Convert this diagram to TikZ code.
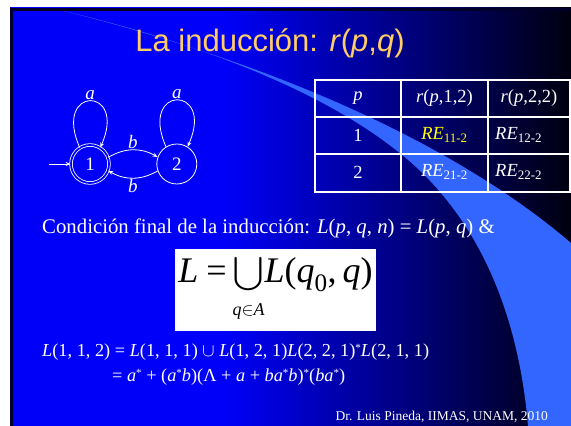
\RequirePackage{fix-cm}
\documentclass[tikz,border=0pt]{standalone}
\usepackage{amsmath}
\usepackage{fontspec}
\setmainfont{Liberation Serif}
\newfontfamily\titlefont{Liberation Sans}
\usetikzlibrary{arrows.meta,positioning}
\definecolor{slideblue}{RGB}{0,0,250}
\definecolor{slidedark}{RGB}{0,0,15}
\definecolor{slideframe}{RGB}{0,0,40}
\definecolor{swoosh}{RGB}{51,102,255}
\definecolor{titlegold}{RGB}{255,204,102}
\definecolor{reyellow}{RGB}{255,255,0}
\pgfdeclarehorizontalshading{slideshade}{100bp}{color(0bp)=(slideblue); color(25bp)=(slideblue); color(44bp)=(slideblue); color(75bp)=(slidedark); color(100bp)=(slidedark)}
\newcommand{\kstar}{\raisebox{5pt}{\fontsize{11}{11}\selectfont*}}
\newcommand{\bigunion}{\mathop{\resizebox*{30pt}{38pt}{$\displaystyle\bigcup$}}}

\begin{document}
\begin{tikzpicture}[
    x=1pt,y=1pt,
    >=Stealth,
    edge/.style={-{Stealth[length=5pt,width=4pt]},draw=white,line width=0.8pt},
    state/.style={
      circle,draw=white,line width=0.8pt,text=white,
      minimum size=40pt,inner sep=0pt,font=\fontsize{19}{19}\selectfont
    },
    accept/.style={state,double=slideblue,double distance=1.8pt,minimum size=38pt},
    lbl/.style={text=white,font=\fontsize{19}{19}\selectfont,inner sep=1pt},
    tblline/.style={draw=white,line width=1.6pt},
    cell/.style={text=white,font=\fontsize{18.5}{18.5}\selectfont,inner sep=0pt},
    body/.style={text=white,font=\fontsize{20.8}{20.8}\selectfont,inner sep=0pt,anchor=west},
    eqline/.style={text=white,font=\fontsize{18.3}{18.3}\selectfont,inner sep=0pt,anchor=west}
  ]
    \fill[white] (0,0) rectangle (571,426);
    \useasboundingbox (0,0) rectangle (571,426);

    % slide background and swoosh
    \shade[shading=slideshade] (10,0) rectangle (571,418);
    \fill[swoosh] (60,416) .. controls (250,371) and (380,306) .. (440,234)
      .. controls (490,176) and (520,96) .. (528,0) -- (571,0) -- (571,183)
      .. controls (480,261) and (320,351) .. (60,416) -- cycle;
    \draw[slideframe,line width=3pt] (11.5,0) -- (11.5,416.5) -- (571,416.5);

    \node[font=\titlefont\fontsize{31}{31}\selectfont,text=titlegold] (title) at (270,383)
      {La inducción: \textit{r}(\textit{p},\textit{q})};

    % automaton
    \node[accept] (s1) at (90,262) {1};
    \node[state,right=47pt of s1] (s2) {2};
    \coordinate[left=22pt of s1] (init);
    \draw[edge] (init) -- (s1);
    \draw[edge] (s1.122) .. controls +(114:68) and +(66:68) .. node[above,lbl] {\textit{a}} (s1.58);
    \draw[edge] (s2.122) .. controls +(114:68) and +(66:68) .. node[above,lbl] {\textit{a}} (s2.58);
    \draw[edge] (s1.20) to[bend left=30] node[above,lbl] {\textit{b}} (s2.160);
    \draw[edge] (s2.200) to[bend left=30] node[below,lbl] {\textit{b}} (s1.340);

    % table
    \draw[tblline] (315,234) rectangle (570,346);
    \draw[tblline] (315,309) -- (570,309) (315,272) -- (570,272)
      (401,234) -- (401,346) (488,234) -- (488,346);
    \node[cell] (hp) at (358,328) {\textit{p}};
    \node[cell] (h12) at (444.5,328) {\textit{r}(\textit{p},1,2)};
    \node[cell] (h22) at (529,328) {\textit{r}(\textit{p},2,2)};
    \node[cell] (p1) at (358,291) {1};
    \node[cell,text=reyellow] (re11) at (444.5,291) {\textit{RE}\textsubscript{11-2}};
    \node[cell,anchor=west] (re12) at (495,291) {\textit{RE}\textsubscript{12-2}};
    \node[cell] (p2) at (358,254) {2};
    \node[cell] (re21) at (444.5,254) {\textit{RE}\textsubscript{21-2}};
    \node[cell,anchor=west] (re22) at (495,254) {\textit{RE}\textsubscript{22-2}};

    % final condition
    \node[body] (cond) at (42,198)
      {Condición final de la inducción: \textit{L}(\textit{p}, \textit{q}, \textit{n}) = \textit{L}(\textit{p}, \textit{q}) \&};
    \node[fill=white,minimum width=201pt,minimum height=82pt,inner sep=0pt] (fbox) at (275.5,136) {};
    \node[font=\fontsize{36}{36}\selectfont,inner sep=0pt,anchor=base] (formula) at (275.5,143)
      {$\textit{L}\mkern4mu\text{=}\mkern0mu\bigunion\limits_{\raisebox{-7pt}{$\scriptscriptstyle\textit{q}\in\textit{A}$}}\mkern-3mu\textit{L}\text{(}\textit{q}_{\text{0}}\text{,}\,\textit{q}\text{)}$};

    \node[eqline] (eq1) at (42,74)
      {\textit{L}(1, 1, 2) = \textit{L}(1, 1, 1) $\cup$ \textit{L}(1, 2, 1)\textit{L}(2, 2, 1)\kstar\textit{L}(2, 1, 1)};
    \node[eqline] (eq2) at (112,49)
      {= \textit{a}\kstar{} + (\textit{a}\kstar\textit{b})(Λ + \textit{a} + \textit{ba}\kstar\textit{b})\kstar(\textit{ba}\kstar)};

    \node[anchor=east,inner sep=0pt,text=white,font=\fontsize{13.5}{13.5}\selectfont] (credit) at (548,9)
      {Dr. Luis Pineda, IIMAS, UNAM, 2010};
  \end{tikzpicture}
\end{document}
